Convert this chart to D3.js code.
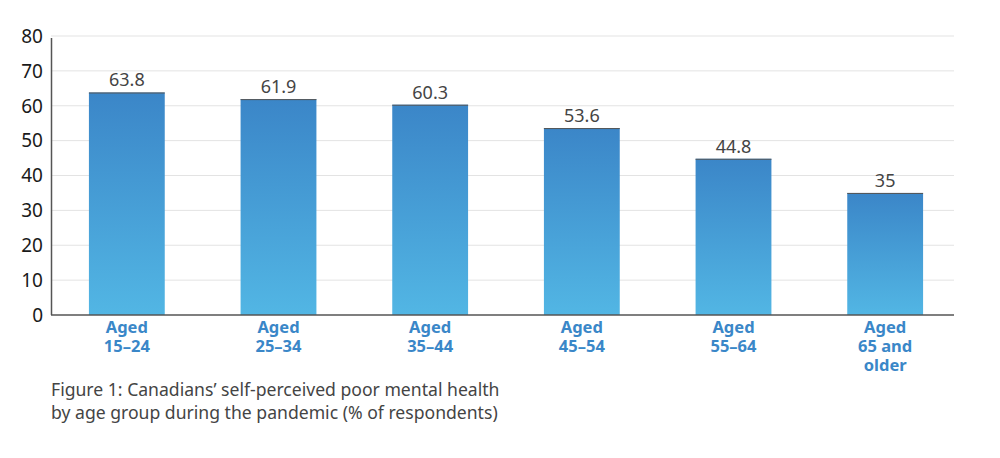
<!DOCTYPE html>
<html>
<head>
<meta charset="utf-8">
<script src="https://cdn.jsdelivr.net/npm/d3@7"></script>
<style>
  body { margin: 0; background: #fff; }
  svg text { font-family: "Noto Sans", "DejaVu Sans", sans-serif; }
</style>
</head>
<body>
<div id="chart"></div>
<script>
// data
var categories = ["Aged|15–24", "Aged|25–34", "Aged|35–44", "Aged|45–54", "Aged|55–64", "Aged|65 and|older"];
var values = [63.8, 61.9, 60.3, 53.6, 44.8, 35];
var yTicks = [0, 10, 20, 30, 40, 50, 60, 70, 80];
var caption = ["Figure 1: Canadians\u2019 self-perceived poor mental health",
               "by age group during the pandemic (% of respondents)"];

var width = 1000, height = 458;
var plotLeft = 51, plotTop = 36, plotBottom = 315, gridRight = 954;

var svg = d3.select('#chart').append('svg').attr('width', width).attr('height', height);

var defs = svg.append('defs');
var grad = defs.append('linearGradient').attr('id', 'barGrad')
    .attr('x1', 0).attr('y1', 0).attr('x2', 0).attr('y2', 1);
grad.append('stop').attr('offset', '0%').attr('stop-color', '#3b86c8');
grad.append('stop').attr('offset', '100%').attr('stop-color', '#52b6e4');

var xs = d3.scaleBand().range([plotLeft, 961]).domain(categories).padding(0.5).paddingOuter(0.25);
var ys = d3.scaleLinear().range([plotBottom, plotTop]).domain([0, 80]);

// grid lines
svg.append('g').selectAll('line').data(yTicks.filter(function(d){ return d > 0; })).enter().append('line')
    .attr('x1', plotLeft).attr('x2', gridRight)
    .attr('y1', function(d){ return ys(d); }).attr('y2', function(d){ return ys(d); })
    .attr('stroke', '#e3e3e3').attr('stroke-width', 1);

// y tick labels
svg.append('g').selectAll('text').data(yTicks).enter().append('text')
    .attr('x', 43).attr('y', function(d){ return ys(d); })
    .attr('dy', '0.36em')
    .attr('text-anchor', 'end')
    .attr('font-size', 19)
    .attr('fill', '#1a1a1a')
    .text(function(d){ return d; });

// bars
var bars = svg.append('g').selectAll('g.bar').data(values).enter().append('g').attr('class', 'bar');
bars.append('rect')
    .attr('x', function(d, i){ return xs(categories[i]); })
    .attr('y', function(d){ return ys(d); })
    .attr('width', xs.bandwidth())
    .attr('height', function(d){ return plotBottom - ys(d); })
    .attr('fill', 'url(#barGrad)');
bars.append('line')
    .attr('x1', function(d, i){ return xs(categories[i]); })
    .attr('x2', function(d, i){ return xs(categories[i]) + xs.bandwidth(); })
    .attr('y1', function(d){ return ys(d) + 0.5; })
    .attr('y2', function(d){ return ys(d) + 0.5; })
    .attr('stroke', '#555').attr('stroke-width', 1);
bars.append('text')
    .attr('x', function(d, i){ return xs(categories[i]) + xs.bandwidth() / 2; })
    .attr('y', function(d){ return ys(d) - 6; })
    .attr('text-anchor', 'middle')
    .attr('font-size', 18)
    .attr('fill', '#444')
    .text(function(d){ return d; });

// axes lines
svg.append('line').attr('x1', plotLeft + 0.5).attr('x2', plotLeft + 0.5).attr('y1', plotTop + 2).attr('y2', plotBottom)
    .attr('stroke', '#555').attr('stroke-width', 1.5);
svg.append('line').attr('x1', plotLeft).attr('x2', gridRight).attr('y1', plotBottom).attr('y2', plotBottom)
    .attr('stroke', '#555').attr('stroke-width', 1.5);

// category labels
var cat = svg.append('g').selectAll('text').data(categories).enter().append('text')
    .attr('x', function(d){ return xs(d) + xs.bandwidth() / 2; })
    .attr('y', 333)
    .attr('text-anchor', 'middle')
    .attr('font-size', 16.5)
    .attr('font-weight', 'bold')
    .attr('fill', '#3a87c8');
cat.selectAll('tspan').data(function(d){ return d.split('|'); }).enter().append('tspan')
    .attr('x', function(){ var p = d3.select(this.parentNode).datum(); return xs(p) + xs.bandwidth() / 2; })
    .attr('dy', function(d, i){ return i === 0 ? 0 : 19; })
    .text(function(d){ return d; });

// caption
svg.append('g').selectAll('text').data(caption).enter().append('text')
    .attr('x', 51).attr('y', function(d, i){ return 396 + i * 23; })
    .attr('font-size', 17.6)
    .attr('fill', '#444')
    .text(function(d){ return d; });
</script>
</body>
</html>
